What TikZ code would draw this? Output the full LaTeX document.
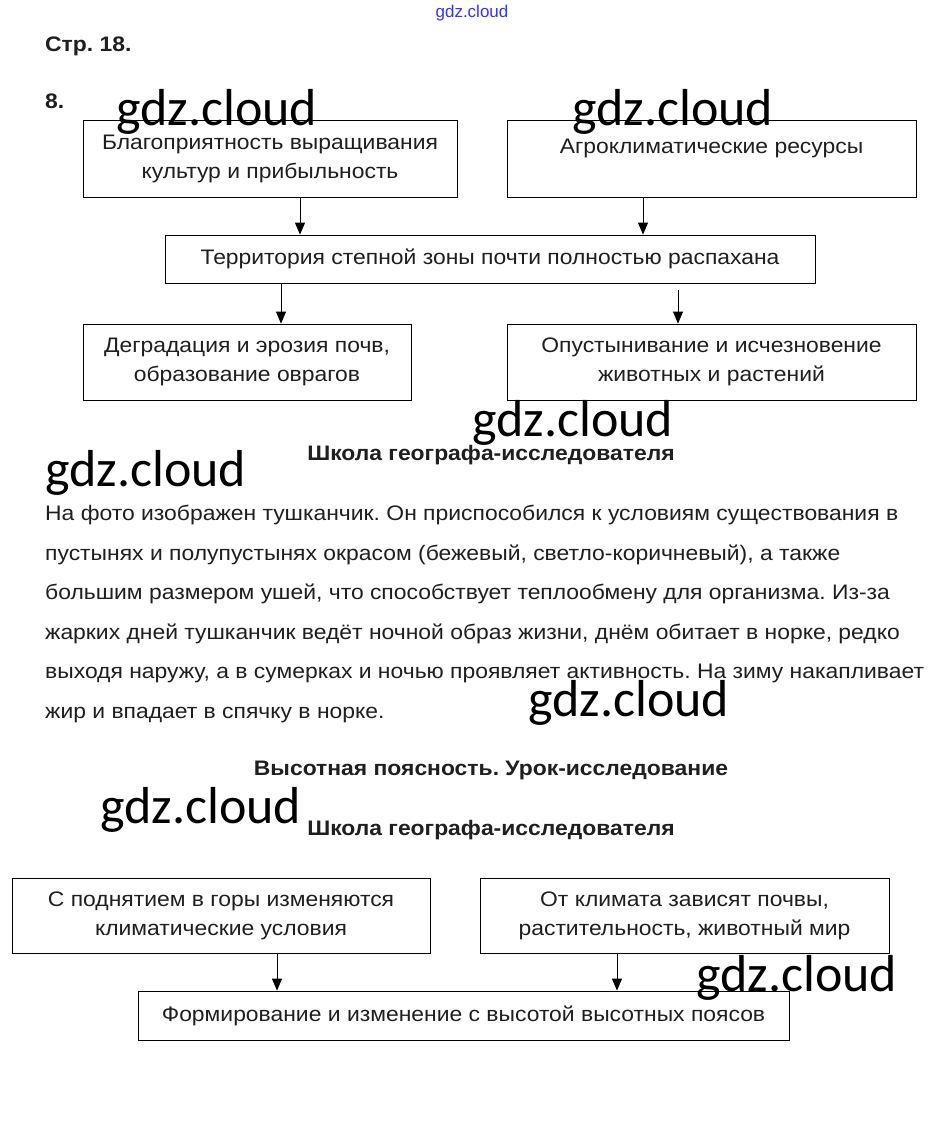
\documentclass[tikz,border=0pt]{standalone}
\usepackage{fontspec}
\setmainfont[FakeStretch=1.09]{Liberation Sans}
\newfontfamily\wmfont{Carlito}
\newfontfamily\topfont{Liberation Sans}
\usetikzlibrary{arrows.meta}
\frenchspacing
\begin{document}
\begin{tikzpicture}[x=1pt,y=-1pt,
  box/.style={draw, line width=0.8pt, inner sep=0pt, align=center,
    font=\fontsize{21}{29}\selectfont, text=black!88},
  arr/.style={line width=0.8pt, -{Triangle[length=12pt,width=10pt]}},
  wm/.style={font=\wmfont\fontsize{52}{52}\selectfont, anchor=base west, inner sep=0pt},
  txt/.style={font=\fontsize{21}{25}\selectfont, text=black!88, inner sep=0pt},
  head/.style={font=\bfseries\fontsize{21}{24}\selectfont, text=black!88, inner sep=0pt, anchor=base}]
\useasboundingbox (0,0) rectangle (942,1128);
\fill[white] (0,0) rectangle (942,1128);

\node[anchor=base, inner sep=0pt, text=blue!80, font=\topfont\fontsize{17}{17}\selectfont] (top) at (472,17) {gdz.cloud};
\node[head, anchor=base west] (str) at (45,51) {Стр. 18.};
\node[head, anchor=base west] (num) at (45,108) {8.};

\node[box, minimum width=374pt, minimum height=77pt] (b1) at (270,158.5) {Благоприятность выращивания\\культур и прибыльность};
\node[box, minimum width=409pt, minimum height=77pt] (b2) at (711.5,158.5) {\rule{0pt}{27pt}Агроклиматические ресурсы\\\strut};
\node[box, minimum width=650pt, minimum height=48pt] (b3) at (490,259) {Территория степной зоны почти полностью распахана};
\node[box, minimum width=328pt, minimum height=76pt] (b4) at (247,362) {Деградация и эрозия почв,\\образование оврагов};
\node[box, minimum width=409pt, minimum height=76pt] (b5) at (711.5,362) {Опустынивание и исчезновение\\животных и растений};

\draw[arr] (300,0 |- b1.south) -- (300,0 |- b3.north);
\draw[arr] (643,0 |- b2.south) -- (643,0 |- b3.north);
\draw[arr] (281,0 |- b3.south) -- (281,0 |- b4.north);
\draw[arr, shorten <=7pt] (678,0 |- b3.south) -- (678,0 |- b5.north);

\node[head] (h1) at (491,460) {Школа географа-исследователя};

\node[txt, anchor=north west, align=left, font=\fontsize{21}{39.5}\selectfont] (par) at (45,505) {%
На фото изображен тушканчик. Он приспособился к условиям существования в\\
пустынях и полупустынях окрасом (бежевый, светло-коричневый), а также\\
большим размером ушей, что способствует теплообмену для организма. Из-за\\
жарких дней тушканчик ведёт ночной образ жизни, днём обитает в норке, редко\\
выходя наружу, а в сумерках и ночью проявляет активность. На зиму накапливает\\
жир и впадает в спячку в норке.};

\node[head] (h2) at (491,775) {Высотная поясность. Урок-исследование};
\node[head] (h3) at (491,835) {Школа географа-исследователя};

\node[box, minimum width=418pt, minimum height=75pt] (b6) at (221,915.5) {С поднятием в горы изменяются\\климатические условия};
\node[box, minimum width=409pt, minimum height=75pt] (b7) at (684.5,915.5) {От климата зависят почвы,\\растительность, животный мир};
\node[box, minimum width=651pt, minimum height=49pt] (b8) at (463.5,1015.5) {Формирование и изменение с высотой высотных поясов};

\draw[arr] (277,0 |- b6.south) -- (277,0 |- b8.north);
\draw[arr] (617,0 |- b7.south) -- (617,0 |- b8.north);

\node[wm] (w1) at (116,125) {gdz.cloud};
\node[wm] (w2) at (572,125) {gdz.cloud};
\node[wm] (w3) at (472,436) {gdz.cloud};
\node[wm] (w4) at (45,486) {gdz.cloud};
\node[wm] (w5) at (528,716) {gdz.cloud};
\node[wm] (w6) at (100,823) {gdz.cloud};
\node[wm] (w7) at (696,991) {gdz.cloud};
\end{tikzpicture}
\end{document}
